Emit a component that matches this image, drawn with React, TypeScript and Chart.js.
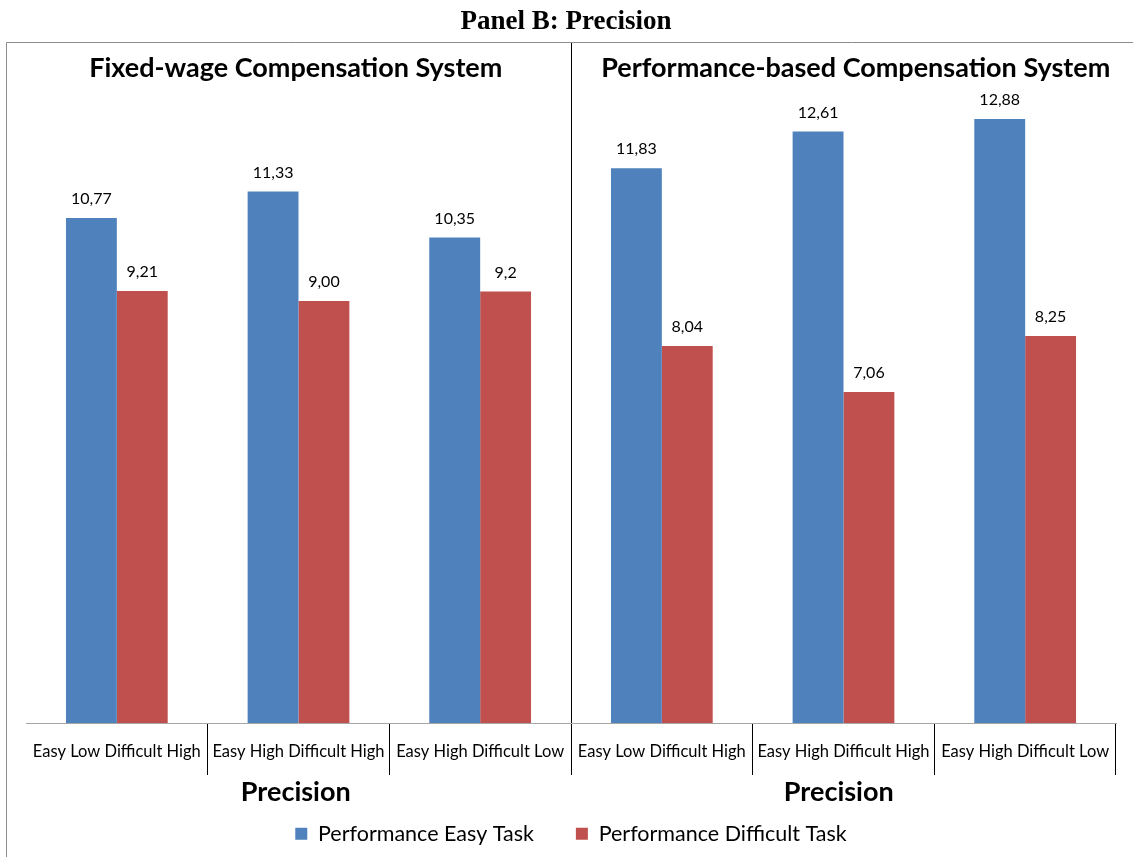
import React, { useEffect, useRef } from "react";
import { Chart, registerables } from "chart.js";

Chart.register(...registerables);

const categories = [
  "Easy Low Difficult High",
  "Easy High Difficult High",
  "Easy High Difficult Low",
  "Easy Low Difficult High",
  "Easy High Difficult High",
  "Easy High Difficult Low",
];
const easyValues = [10.77, 11.33, 10.35, 11.83, 12.61, 12.88];
const difficultValues = [9.21, 9.0, 9.2, 8.04, 7.06, 8.25];
const easyLabels = ["10,77", "11,33", "10,35", "11,83", "12,61", "12,88"];
const difficultLabels = ["9,21", "9,00", "9,2", "8,04", "7,06", "8,25"];
const seriesNames = ["Performance Easy Task", "Performance Difficult Task"];
const panelTitles = ["Fixed-wage Compensation System", "Performance-based Compensation System"];
const axisTitle = "Precision";
const mainTitle = "Panel B: Precision";

const FONT = "Lato, 'Open Sans', sans-serif";
const W = 1133;
const H = 857;

const overlayPlugin = {
  id: "overlay",
  afterDatasetsDraw(chart: any) {
    const { ctx } = chart;
    const labelSets = [easyLabels, difficultLabels];
    ctx.save();
    ctx.font = `16px ${FONT}`;
    ctx.fillStyle = "#000";
    ctx.textAlign = "center";
    ctx.textBaseline = "middle";
    chart.data.datasets.forEach((_: any, di: number) => {
      const meta = chart.getDatasetMeta(di);
      meta.data.forEach((el: any, i: number) => {
        ctx.fillText(labelSets[di][i], el.x, el.y - 19);
      });
    });
    ctx.restore();
  },
  afterDraw(chart: any) {
    const { ctx, chartArea } = chart;
    const xs = chart.scales.x;
    ctx.save();
    // frame
    ctx.strokeStyle = "#8c8c8c";
    ctx.lineWidth = 1;
    ctx.beginPath();
    ctx.moveTo(6.5, H);
    ctx.lineTo(6.5, 42.5);
    ctx.lineTo(W, 42.5);
    ctx.stroke();
    // middle separator
    const sep = Math.round((xs.getPixelForValue(2) + xs.getPixelForValue(3)) / 2) + 0.5;
    ctx.strokeStyle = "#000";
    ctx.beginPath();
    ctx.moveTo(sep, 43);
    ctx.lineTo(sep, chartArea.bottom);
    ctx.stroke();
    // main title
    ctx.fillStyle = "#000";
    ctx.textAlign = "center";
    ctx.textBaseline = "middle";
    ctx.font = "bold 27px 'Liberation Serif', 'Times New Roman', serif";
    ctx.fillText(mainTitle, 566, 22);
    // panel titles
    ctx.font = `bold 27px ${FONT}`;
    const leftMid = (chartArea.left + sep) / 2;
    const rightMid = (sep + chartArea.right) / 2;
    ctx.fillText(panelTitles[0], leftMid - 3, 68);
    ctx.fillText(panelTitles[1], rightMid + 12, 68);
    // axis titles
    ctx.font = `bold 27px ${FONT}`;
    ctx.fillText(axisTitle, leftMid - 3, 792);
    ctx.fillText(axisTitle, rightMid - 5, 792);
    ctx.restore();
  },
};

export default function App() {
  const canvasRef = useRef<HTMLCanvasElement | null>(null);

  useEffect(() => {
    const canvas = canvasRef.current;
    if (!canvas) return;
    const chart = new Chart(canvas, {
      type: "bar",
      data: {
        labels: categories,
        datasets: [
          {
            label: seriesNames[0],
            data: easyValues,
            backgroundColor: "#4F81BD",
            borderWidth: 0,
            barPercentage: 1,
            categoryPercentage: 0.56,
          },
          {
            label: seriesNames[1],
            data: difficultValues,
            backgroundColor: "#C0504D",
            borderWidth: 0,
            barPercentage: 1,
            categoryPercentage: 0.56,
          },
        ],
      },
      options: {
        responsive: false,
        animation: false,
        devicePixelRatio: 1,
        layout: { padding: { left: 26, right: 17, top: 66.4, bottom: 2.5 } },
        plugins: {
          title: { display: false },
          tooltip: { enabled: false },
          legend: {
            display: true,
            position: "bottom",
            labels: {
              boxWidth: 12,
              boxHeight: 12,
              padding: 42,
              color: "#000",
              font: { family: FONT, size: 21.5 },
            },
          },
        },
        scales: {
          x: {
            afterFit: (scale: any) => {
              scale.height = 58;
            },
            border: { display: true, color: "#a6a6a6", width: 1 },
            grid: {
              display: true,
              offset: true,
              drawOnChartArea: false,
              drawTicks: true,
              tickLength: 52,
              color: (c: any) => (c.index === 0 || c.index === 6 ? "rgba(0,0,0,0)" : "#000"),
            },
            ticks: {
              autoSkip: false,
              maxRotation: 0,
              minRotation: 0,
              padding: -33,
              color: "#000",
              font: { family: FONT, size: 16.5 },
            },
          },
          y: {
            display: false,
            min: 0,
            max: 14,
          },
        },
      },
      plugins: [overlayPlugin],
    });
    return () => chart.destroy();
  }, []);

  return (
    <div style={{ position: "absolute", left: 0, top: 0, width: W, height: H, background: "#fff" }}>
      <canvas ref={canvasRef} width={W} height={H} style={{ display: "block" }} />
    </div>
  );
}
